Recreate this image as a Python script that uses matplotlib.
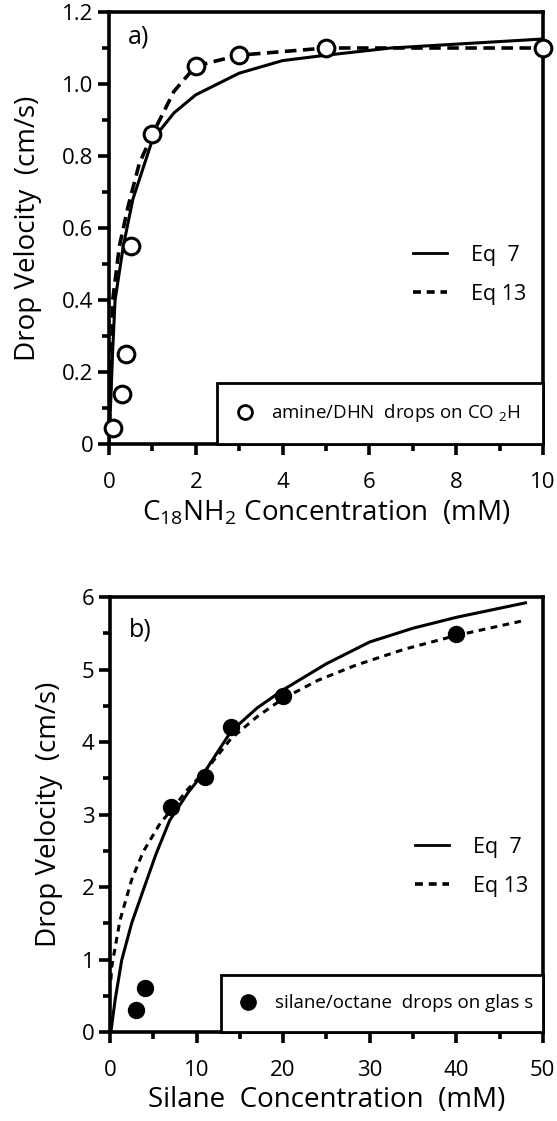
import matplotlib
matplotlib.use("Agg")
import matplotlib.pyplot as plt
from matplotlib.lines import Line2D
from matplotlib.ticker import MultipleLocator, FuncFormatter

plt.rcParams['font.family'] = ['Open Sans', 'DejaVu Sans']
plt.rcParams['mathtext.fontset'] = 'custom'
plt.rcParams['mathtext.rm'] = 'Open Sans'

# panel a: amine / DHN drops on CO2H
amine_conc = [0.1, 0.3, 0.4, 0.5, 1.0, 2.0, 3.0, 5.0, 10.0]
amine_vel = [0.045, 0.14, 0.25, 0.55, 0.86, 1.05, 1.08, 1.10, 1.10]

amine_eq7_x = [0.0, 0.085, 0.14, 0.33, 0.55, 1.0, 1.5, 2.0, 3.0, 4.0, 5.0, 6.5, 10.0]
amine_eq7_y = [0.0, 0.26, 0.40, 0.55, 0.68, 0.845, 0.92, 0.97, 1.03, 1.065, 1.08, 1.10, 1.125]
amine_eq13_x = [0.0, 0.06, 0.085, 0.24, 0.44, 0.7, 1.0, 1.5, 2.0, 3.0, 5.0, 10.0]
amine_eq13_y = [0.0, 0.26, 0.40, 0.55, 0.66, 0.78, 0.86, 0.98, 1.05, 1.08, 1.10, 1.10]

# panel b: silane / octane drops on glass
silane_conc = [3, 4, 7, 11, 14, 20, 40]
silane_vel = [0.30, 0.61, 3.11, 3.52, 4.21, 4.63, 5.49]

silane_eq7_x = [0.1, 0.6, 1.35, 2.5, 3.85, 5.3, 6.9, 9.0, 11, 14, 17, 20, 25, 30, 35, 40, 48]
silane_eq7_y = [0.0, 0.45, 0.99, 1.5, 1.96, 2.45, 2.92, 3.3, 3.6, 4.15, 4.47, 4.72, 5.08, 5.38, 5.57, 5.72, 5.92]
silane_eq13_x = [0.1, 0.2, 1.15, 2.5, 3.85, 5.8, 7, 9, 11, 14, 17, 20, 24, 28.4, 34, 40, 48]
silane_eq13_y = [0.72, 0.9, 1.54, 2.1, 2.49, 2.88, 3.05, 3.35, 3.6, 4.05, 4.35, 4.6, 4.85, 5.06, 5.28, 5.47, 5.68]

fig = plt.figure(figsize=(5.57, 11.21), dpi=100)
ax1 = fig.add_axes([0.1957, 0.6039, 0.779, 0.3854])
ax2 = fig.add_axes([0.1975, 0.0794, 0.777, 0.388])


def style_axes(ax):
    for s in ax.spines.values():
        s.set_linewidth(2.6)
    ax.tick_params(which='major', direction='out', length=8, width=2.6,
                   labelsize=16, top=False, right=False)
    ax.tick_params(which='minor', direction='out', length=5, width=2.6,
                   top=False, right=False)
    ax.tick_params(axis='x', which='major', pad=12)
    ax.tick_params(axis='y', which='major', pad=3)


# ---- panel a
ax1.plot(amine_eq7_x, amine_eq7_y, color='black', lw=2.2)
ax1.plot(amine_eq13_x, amine_eq13_y, color='black', lw=2.6, linestyle=(0, (3.2, 1.8)))
ax1.plot(amine_conc, amine_vel, 'o', ms=12, mfc='white', mec='black', mew=2.2,
         clip_on=False, zorder=5)
ax1.set_xlim(0, 10)
ax1.set_ylim(0, 1.2)
ax1.xaxis.set_major_locator(MultipleLocator(2))
ax1.xaxis.set_minor_locator(MultipleLocator(1))
ax1.yaxis.set_major_locator(MultipleLocator(0.2))
ax1.yaxis.set_minor_locator(MultipleLocator(0.1))
ax1.yaxis.set_major_formatter(FuncFormatter(lambda v, p: '0' if abs(v) < 1e-9 else f'{v:.1f}'))
style_axes(ax1)
ax1.set_xlabel(r'C$_{\mathregular{18}}$NH$_{\mathregular{2}}$ Concentration  (mM)', fontsize=20, labelpad=4)
ax1.set_ylabel('Drop Velocity  (cm/s)', fontsize=20, labelpad=15)
ax1.text(0.043, 0.942, 'a)', transform=ax1.transAxes, fontsize=18, va='center')

eq_handles = [Line2D([], [], color='black', lw=2.0),
              Line2D([], [], color='black', lw=2.6, linestyle=(0, (2.2, 1.6)))]
leg = ax1.legend(eq_handles, ['Eq  7', 'Eq 13'], loc='center left',
                 bbox_to_anchor=(0.655, 0.392), frameon=False, fontsize=15.5,
                 handlelength=1.6, handletextpad=1.1, labelspacing=0.85)
ax1.add_artist(leg)
ax1.legend([Line2D([], [], marker='o', ls='', ms=10, mfc='white', mec='black', mew=2.0)],
           [r'amine/DHN  drops on CO $_{\mathregular{2}}$H'],
           loc='lower left', bbox_to_anchor=(0.25, 0.0, 0.75, 0.17), mode='expand',
           borderaxespad=0, fontsize=13.5, borderpad=1.05, handlelength=0.8,
           handletextpad=1.0, fancybox=False, edgecolor='black',
           framealpha=1).get_frame().set_linewidth(2.0)

# ---- panel b
ax2.plot(silane_eq7_x, silane_eq7_y, color='black', lw=2.2)
ax2.plot(silane_eq13_x, silane_eq13_y, color='black', lw=2.2, linestyle=(0, (2.2, 1.8)))
ax2.plot(silane_conc, silane_vel, 'o', ms=11.5, color='black', clip_on=False, zorder=5)
ax2.set_xlim(0, 50)
ax2.set_ylim(0, 6)
ax2.xaxis.set_major_locator(MultipleLocator(10))
ax2.xaxis.set_minor_locator(MultipleLocator(5))
ax2.yaxis.set_major_locator(MultipleLocator(1))
ax2.yaxis.set_minor_locator(MultipleLocator(0.5))
style_axes(ax2)
ax2.set_xlabel('Silane  Concentration  (mM)', fontsize=20, labelpad=4)
ax2.set_ylabel('Drop Velocity  (cm/s)', fontsize=20, labelpad=14)
ax2.text(0.043, 0.924, 'b)', transform=ax2.transAxes, fontsize=18, va='center')

eq_handles_b = [Line2D([], [], color='black', lw=2.0),
                Line2D([], [], color='black', lw=2.6, linestyle=(0, (2.2, 1.6)))]
leg2 = ax2.legend(eq_handles_b, ['Eq  7', 'Eq 13'], loc='center left',
                  bbox_to_anchor=(0.66, 0.38), frameon=False, fontsize=15.5,
                  handlelength=1.6, handletextpad=1.1, labelspacing=0.85)
ax2.add_artist(leg2)
ax2.legend([Line2D([], [], marker='o', ls='', ms=11, color='black')],
           ['silane/octane  drops on glas s'],
           loc='lower left', bbox_to_anchor=(0.257, 0.0, 0.743, 0.15), mode='expand',
           borderaxespad=0, fontsize=13.5, borderpad=1.05, handlelength=0.8,
           handletextpad=1.0, fancybox=False, edgecolor='black',
           framealpha=1).get_frame().set_linewidth(2.0)

fig.savefig('out.png', dpi=100)
